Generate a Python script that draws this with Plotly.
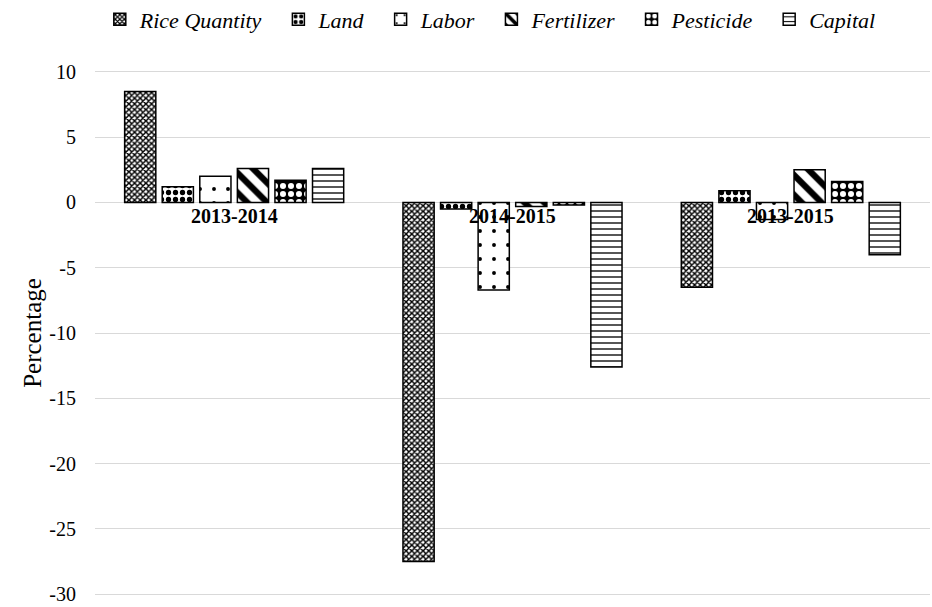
import plotly.graph_objects as go

# Periods and percentage changes per factor
periods = ["2013-2014", "2014-2015", "2013-2015"]
rice_quantity = [8.5, -27.5, -6.5]
land = [1.2, -0.5, 0.9]
labor = [2.0, -6.7, -1.3]
fertilizer = [2.6, -0.3, 2.5]
pesticide = [1.7, -0.2, 1.6]
capital = [2.6, -12.6, -4.0]

y_ticks = [10, 5, 0, -5, -10, -15, -20, -25, -30]

# Black-and-white fill patterns, one per factor
series = [
    ("Rice Quantity", rice_quantity, dict(shape="x", size=4, solidity=0.6, fgcolor="black", bgcolor="white")),
    ("Land", land, dict(shape=".", size=7, solidity=0.45, fgcolor="black", bgcolor="white")),
    ("Labor", labor, dict(shape=".", size=14, solidity=0.06, fgcolor="black", bgcolor="white")),
    ("Fertilizer", fertilizer, dict(shape="\\", size=14, solidity=0.45, fgcolor="black", bgcolor="white")),
    ("Pesticide", pesticide, dict(shape=".", size=8, solidity=0.45, fgcolor="white", bgcolor="black")),
    ("Capital", capital, dict(shape="-", size=6, solidity=0.22, fgcolor="black", bgcolor="white")),
]

FONT = "Liberation Serif"
GAP = "\u00a0\u00a0"

fig = go.Figure()
for name, vals, pat in series:
    fig.add_trace(go.Bar(
        x=periods, y=vals, name=f"<i>{name}</i>{GAP}",
        marker=dict(
            color="white",
            line=dict(color="black", width=1.5),
            pattern=dict(fgopacity=1, fillmode="replace", **pat),
        ),
    ))

# Period labels sit just below the zero line
for p in periods:
    fig.add_annotation(
        x=p, y=0, yanchor="top", yshift=-1, showarrow=False,
        text=f"<b>{p}</b>", font=dict(family=FONT, size=20, color="black"),
    )

fig.update_layout(
    width=932, height=607,
    margin=dict(l=95, r=2, t=70, b=9),
    paper_bgcolor="white", plot_bgcolor="white",
    barmode="group", bargap=0.19, bargroupgap=0.17,
    font=dict(family=FONT, size=20, color="black"),
    legend=dict(
        orientation="h", x=0.48, xanchor="center",
        yref="container", y=0.968, yanchor="middle",
        font=dict(family=FONT, size=22, color="black"),
        itemwidth=30, traceorder="normal",
    ),
    xaxis=dict(showticklabels=False, showline=False, showgrid=False, ticks=""),
    yaxis=dict(
        # small padding so the 10 and -30 gridlines are drawn inside the plot area
        range=[-30.15, 10.15], tickvals=y_ticks, ticktext=[str(v) for v in y_ticks],
        showgrid=True, gridcolor="#d9d9d9", gridwidth=1,
        zeroline=True, zerolinecolor="#d9d9d9", zerolinewidth=1,
        showline=False, ticks="", ticklabelstandoff=18,
        ticklabeloverflow="allow",
        tickfont=dict(family=FONT, size=20, color="black"),
        title=dict(text="Percentage", font=dict(family=FONT, size=25, color="black"), standoff=0),
    ),
)

fig.write_html("out.html")
